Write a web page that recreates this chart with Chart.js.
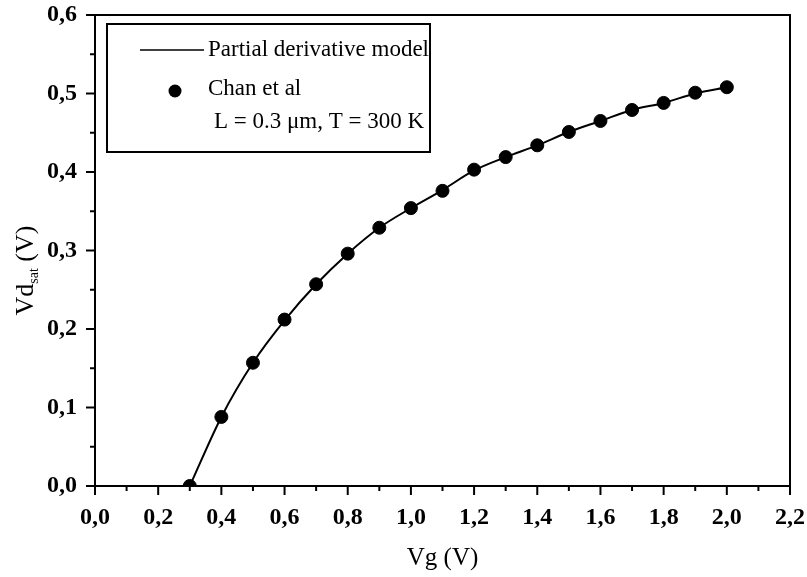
<!DOCTYPE html>
<html lang="en">
  <head>
    <meta charset="UTF-8" />
    <title>Vdsat vs Vg</title>
    <script src="https://cdn.jsdelivr.net/npm/chart.js@4.4.1/dist/chart.umd.min.js"></script>
    <style>
      body { margin: 0; background: #fff; }
    </style>
  </head>
  <body>
    <canvas id="myChart" width="807" height="577"></canvas>

    <script>
    // values
    const vg = [0.3, 0.4, 0.5, 0.6, 0.7, 0.8, 0.9, 1.0, 1.1, 1.2, 1.3, 1.4, 1.5, 1.6, 1.7, 1.8, 1.9, 2.0];
    const modelVd = [0, 0.088, 0.157, 0.211, 0.257, 0.296, 0.329, 0.354, 0.377, 0.402, 0.419, 0.434, 0.451, 0.465, 0.479, 0.488, 0.500, 0.508];
    const chanVd = [0, 0.088, 0.157, 0.212, 0.257, 0.296, 0.329, 0.354, 0.376, 0.403, 0.419, 0.434, 0.451, 0.465, 0.479, 0.488, 0.501, 0.508];
    const legendLabels = ['Partial derivative model', 'Chan et al', 'L = 0.3 \u03bcm, T = 300 K'];

    const serif = '"Liberation Serif", "DejaVu Serif", serif';
    const comma = v => v.toFixed(1).replace('.', ',');

    // frame, minor/major ticks, y title with subscript, legend box
    const decor = {
      id: 'decor',
      afterDraw(chart) {
        const ctx = chart.ctx;
        const a = chart.chartArea;
        const xs = chart.scales.x, ys = chart.scales.y;
        ctx.save();
        ctx.strokeStyle = '#000';
        ctx.lineWidth = 2;
        ctx.strokeRect(a.left, a.top, a.right - a.left, a.bottom - a.top);

        for (let i = 0; i <= 22; i++) {
          const px = xs.getPixelForValue(i / 10);
          const len = i % 2 === 0 ? 9 : 5;
          ctx.beginPath();
          ctx.moveTo(px, a.bottom);
          ctx.lineTo(px, a.bottom + len);
          ctx.stroke();
        }
        for (let i = 0; i <= 12; i++) {
          const py = ys.getPixelForValue(i / 20);
          const len = i % 2 === 0 ? 9 : 5;
          ctx.beginPath();
          ctx.moveTo(a.left, py);
          ctx.lineTo(a.left - len, py);
          ctx.stroke();
        }

        // y axis title
        ctx.fillStyle = '#000';
        ctx.translate(33, (a.top + a.bottom) / 2 + 20);
        ctx.rotate(-Math.PI / 2);
        ctx.textBaseline = 'alphabetic';
        ctx.font = '26px ' + serif;
        const w1 = ctx.measureText('Vd').width;
        ctx.font = '14px ' + serif;
        const w2 = ctx.measureText('sat').width;
        ctx.font = '26px ' + serif;
        const w3 = ctx.measureText(' (V)').width;
        let x0 = -(w1 + w2 + w3) / 2;
        ctx.fillText('Vd', x0, 0);
        ctx.font = '14px ' + serif;
        ctx.fillText('sat', x0 + w1, 5);
        ctx.font = '26px ' + serif;
        ctx.fillText(' (V)', x0 + w1 + w2, 0);
        ctx.restore();

        // legend
        ctx.save();
        ctx.strokeStyle = '#000';
        ctx.lineWidth = 2;
        ctx.strokeRect(107, 24, 323, 128);
        ctx.lineWidth = 1.5;
        ctx.beginPath();
        ctx.moveTo(140, 50);
        ctx.lineTo(204, 50);
        ctx.stroke();
        ctx.fillStyle = '#000';
        ctx.beginPath();
        ctx.arc(175, 91, 6.5, 0, Math.PI * 2);
        ctx.fill();
        ctx.font = '23px ' + serif;
        ctx.textBaseline = 'middle';
        ctx.fillText(legendLabels[0], 208, 50);
        ctx.fillText(legendLabels[1], 208, 89);
        ctx.fillText(legendLabels[2], 214, 122);
        ctx.restore();
      }
    };

    const ctx = document.getElementById('myChart').getContext('2d');
    const myChart = new Chart(ctx, {
      type: 'scatter',
      data: {
        datasets: [{
          label: legendLabels[0],
          data: vg.map((x, i) => ({ x: x, y: modelVd[i] })),
          showLine: true,
          borderColor: '#000',
          borderWidth: 2,
          pointRadius: 0,
          cubicInterpolationMode: 'monotone',
          fill: false
        }, {
          label: legendLabels[1],
          data: vg.map((x, i) => ({ x: x, y: chanVd[i] })),
          showLine: false,
          backgroundColor: '#000',
          borderColor: '#000',
          pointRadius: 6.5,
          pointHoverRadius: 6.5
        }]
      },
      options: {
        responsive: false,
        animation: false,
        layout: { padding: { top: 15, right: 17, left: 0, bottom: 0 } },
        plugins: { legend: { display: false }, tooltip: { enabled: false } },
        scales: {
          x: {
            type: 'linear',
            min: 0,
            max: 2.2,
            afterFit: s => { s.height = 91; s.paddingLeft = 0; s.paddingRight = 0; },
            grid: { display: false },
            border: { display: false },
            ticks: {
              stepSize: 0.1,
              autoSkip: false,
              maxRotation: 0,
              padding: 9,
              color: '#000',
              font: { family: serif, size: 24, weight: 'bold' },
              callback: v => Math.round(v * 10) % 2 === 0 ? comma(v) : ''
            },
            title: {
              display: true,
              text: 'Vg (V)',
              color: '#000',
              font: { family: serif, size: 25 },
              padding: { top: 12 }
            }
          },
          y: {
            min: 0,
            max: 0.6,
            afterFit: s => { s.width = 95; s.paddingTop = 0; s.paddingBottom = 0; },
            grid: { display: false },
            border: { display: false },
            ticks: {
              stepSize: 0.1,
              padding: 10,
              color: '#000',
              font: { family: serif, size: 24, weight: 'bold' },
              callback: v => comma(v)
            }
          }
        }
      },
      plugins: [decor]
    });
    </script>
  </body>
</html>
